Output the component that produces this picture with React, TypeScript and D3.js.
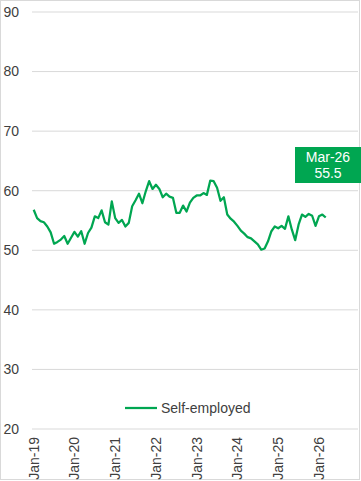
import React from "react";
import * as d3 from "d3";

const seriesName = "Self-employed";
const values: number[] = [
  56.8, 55.4, 54.9, 54.7, 54.0, 53.0, 51.1, 51.4, 51.8, 52.4, 51.1, 52.1,
  53.1, 52.3, 53.2, 51.1, 52.9, 53.8, 55.7, 55.4, 56.7, 54.7, 54.3, 58.2,
  55.4, 54.6, 55.1, 54.0, 54.6, 57.4, 58.4, 59.5, 57.9, 59.9, 61.6, 60.3,
  61.0, 60.3, 58.9, 59.5, 59.0, 58.8, 56.3, 56.3, 57.5, 56.5, 58.0, 58.8,
  59.2, 59.2, 59.6, 59.3, 61.7, 61.6, 60.5, 58.3, 58.9, 56.0, 55.3, 54.8,
  54.1, 53.3, 52.8, 52.2, 52.0, 51.5, 51.0, 50.1, 50.3, 51.5, 53.2, 54.0,
  53.7, 54.1, 53.6, 55.7, 53.5, 51.7, 54.3, 56.0, 55.6, 56.1, 55.8, 54.1,
  55.7, 56.0, 55.5,
];
const fmt = d3.timeFormat("%b-%y");
const categories: string[] = d3
  .timeMonth.range(new Date(2019, 0, 1), new Date(2027, 0, 1))
  .map((d) => fmt(d));
const xTickLabels = ["Jan-19", "Jan-20", "Jan-21", "Jan-22", "Jan-23", "Jan-24", "Jan-25", "Jan-26"];
const yTicks = [20, 30, 40, 50, 60, 70, 80, 90];
const calloutLabel = "Mar-26";
const calloutValue = "55.5";

const W = 361;
const H = 481;
const GREEN = "#00A651";
const FONT = "'Liberation Sans', Arial, sans-serif";

export default function App() {
  const x = d3.scaleBand<string>().domain(categories).range([32, 358]).paddingInner(0).paddingOuter(0);
  const y = d3.scaleLinear().domain([20, 90]).range([429, 12]);
  const cx = (c: string) => (x(c) as number) + x.bandwidth() / 2;
  const line = d3
    .line<number>()
    .x((_, i) => cx(categories[i]))
    .y((v) => y(v));
  return (
    <svg width={W} height={H} style={{ position: "absolute", left: 0, top: 0, background: "#fff" }} fontFamily={FONT}>
      <rect x={0.5} y={0.5} width={359} height={479} fill="#fff" stroke="#d9d9d9" />
      {yTicks.map((t) => (
        <g key={t}>
          <line x1={32} x2={358} y1={y(t)} y2={y(t)} stroke="#d9d9d9" strokeWidth={1} />
          <text x={19} y={y(t)} dy="0.35em" textAnchor="end" fontSize={14} fill="#404040">
            {t}
          </text>
        </g>
      ))}
      {xTickLabels.map((l) => (
        <text
          key={l}
          transform={`translate(${cx(l)},437) rotate(-90)`}
          dy="0.35em"
          textAnchor="end"
          fontSize={14}
          fill="#404040"
        >
          {l}
        </text>
      ))}
      <path d={line(values) || ""} fill="none" stroke={GREEN} strokeWidth={2.25} strokeLinejoin="round" />
      <g>
        <line x1={125} x2={157} y1={408} y2={408} stroke={GREEN} strokeWidth={2.25} />
        <text x={161} y={408} dy="0.35em" fontSize={14} fill="#404040">
          {seriesName}
        </text>
      </g>
      <g>
        <rect x={295} y={147} width={66} height={36} fill={GREEN} />
        <text x={328} y={157} dy="0.35em" textAnchor="middle" fontSize={14} fill="#fff">
          {calloutLabel}
        </text>
        <text x={328} y={173} dy="0.35em" textAnchor="middle" fontSize={14} fill="#fff">
          {calloutValue}
        </text>
      </g>
    </svg>
  );
}
